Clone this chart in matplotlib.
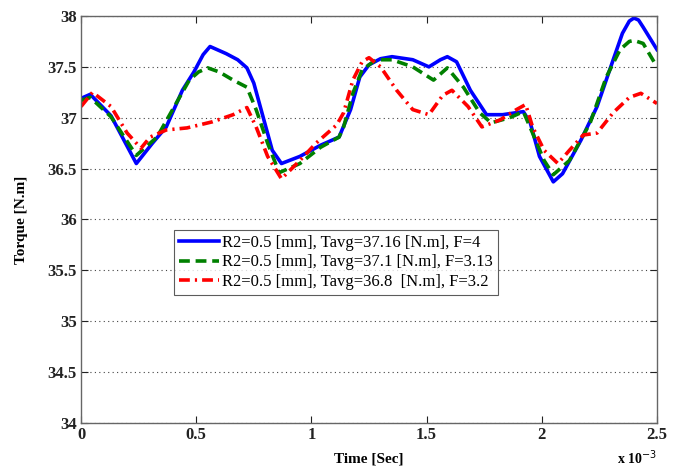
import matplotlib
matplotlib.use("Agg")
import matplotlib.pyplot as plt

# Time in units of 1e-3 s
blue_t = [0.00, 0.04, 0.13, 0.24, 0.31, 0.37, 0.44, 0.49, 0.53, 0.56, 0.59, 0.63, 0.68, 0.72, 0.75, 0.79, 0.83, 0.87,
          0.95, 1.04, 1.12, 1.17, 1.21, 1.25, 1.30, 1.35, 1.44, 1.51, 1.56, 1.59, 1.63, 1.69, 1.76, 1.83, 1.92,
          1.95, 1.99, 2.05, 2.09, 2.17, 2.24, 2.31, 2.35, 2.38, 2.40, 2.42, 2.44, 2.50]
blue_v = [37.19, 37.23, 37.02, 36.55, 36.75, 36.91, 37.27, 37.45, 37.62, 37.70, 37.67, 37.63, 37.57, 37.49, 37.34, 37.01, 36.68, 36.55,
          36.62, 36.73, 36.81, 37.08, 37.40, 37.52, 37.58, 37.60, 37.57, 37.50, 37.57, 37.60, 37.55, 37.27, 37.03, 37.03, 37.06,
          36.95, 36.62, 36.37, 36.45, 36.78, 37.11, 37.57, 37.83, 37.95, 37.98, 37.96, 37.89, 37.67]

green_t = [0.00, 0.04, 0.13, 0.24, 0.33, 0.42, 0.47, 0.51, 0.55, 0.60, 0.66, 0.72, 0.76, 0.81, 0.86, 0.95, 1.04,
           1.12, 1.14, 1.18, 1.22, 1.28, 1.35, 1.44, 1.53, 1.59, 1.66, 1.73, 1.78, 1.86, 1.92, 1.96,
           2.01, 2.05, 2.12, 2.21, 2.28, 2.34, 2.38, 2.40, 2.44, 2.50]
green_v = [37.17, 37.20, 37.01, 36.63, 36.81, 37.17, 37.37, 37.45, 37.49, 37.45, 37.37, 37.30, 37.08, 36.75, 36.46, 36.55, 36.71,
           36.81, 36.91, 37.24, 37.47, 37.57, 37.57, 37.50, 37.37, 37.49, 37.30, 37.05, 36.95, 37.00, 37.06, 36.85,
           36.58, 36.44, 36.58, 36.95, 37.40, 37.67, 37.75, 37.76, 37.73, 37.50]

red_t = [0.00, 0.05, 0.13, 0.20, 0.26, 0.30, 0.37, 0.46, 0.57, 0.66, 0.72, 0.76, 0.81, 0.87, 0.95,
         1.02, 1.11, 1.14, 1.18, 1.22, 1.25, 1.30, 1.37, 1.44, 1.51, 1.57, 1.61, 1.68, 1.74, 1.82,
         1.89, 1.93, 1.96, 2.01, 2.07, 2.12, 2.18, 2.24, 2.31, 2.38, 2.43, 2.50]
red_v = [37.11, 37.25, 37.11, 36.85, 36.70, 36.81, 36.88, 36.90, 36.96, 37.03, 37.10, 36.91, 36.62, 36.40, 36.58,
         36.75, 36.93, 37.05, 37.37, 37.55, 37.59, 37.50, 37.27, 37.08, 37.03, 37.22, 37.27, 37.11, 36.91, 36.98,
         37.08, 37.13, 36.91, 36.68, 36.55, 36.68, 36.83, 36.85, 37.05, 37.20, 37.24, 37.14]

labels = ["R2=0.5 [mm], Tavg=37.16 [N.m], F=4",
          "R2=0.5 [mm], Tavg=37.1 [N.m], F=3.13",
          "R2=0.5 [mm], Tavg=36.8  [N.m], F=3.2"]

x_ticks = [0, 0.5, 1, 1.5, 2, 2.5]
x_tick_labels = ["0", "0.5", "1", "1.5", "2", "2.5"]
y_ticks = [34, 34.5, 35, 35.5, 36, 36.5, 37, 37.5, 38]
y_tick_labels = ["34", "34.5", "35", "35.5", "36", "36.5", "37", "37.5", "38"]

plt.rcParams['font.family'] = ['Liberation Serif', 'DejaVu Serif']

fig = plt.figure(figsize=(6.73, 4.69), dpi=100)
ax = fig.add_axes([0.1204, 0.0981, 0.8558, 0.8678])

kw = dict(lw=2.6, solid_joinstyle='round', dash_joinstyle='round')
ax.plot(blue_t, blue_v, color='#0000ff', label=labels[0], **kw)
ax.plot(green_t, green_v, color='#008000', linestyle=(0, (3.0, 1.6)), label=labels[1], **kw)
ax.plot(red_t, red_v, color='#ff0000', linestyle=(0, (3.0, 1.4, 0.6, 1.4)), label=labels[2], **kw)

ax.set_xlim(0, 2.5)
ax.set_ylim(34, 38)
ax.set_xticks(x_ticks)
ax.set_xticklabels(x_tick_labels, fontsize=12, fontweight='bold')
ax.set_yticks(y_ticks)
ax.set_yticklabels(y_tick_labels, fontsize=12, fontweight='bold')
ax.tick_params(direction='in', top=True, right=True, length=5, width=0.8, colors='#222222', pad=3)
ax.yaxis.grid(True, linestyle=(0, (1, 3)), color='#444444', linewidth=0.8)
for s in ax.spines.values():
    s.set_color('#666666')
    s.set_linewidth(1.0)

ax.set_xlabel("Time [Sec]", fontsize=11, fontweight='bold', labelpad=7)
ax.set_ylabel("Torque [N.m]", fontsize=11, fontweight='bold', labelpad=14)
ax.text(1.0, -0.062, r"x 10$^{-3}$", transform=ax.transAxes, ha='right', va='top',
        fontsize=10, fontweight='bold')

leg = ax.legend(loc='upper left', bbox_to_anchor=(0.161, 0.474), fontsize=12,
                frameon=True, fancybox=False, edgecolor='#333333', handlelength=2.4,
                handletextpad=0.2, borderpad=0.3, labelspacing=0.2, borderaxespad=0)
leg.get_frame().set_linewidth(0.8)

fig.savefig("out.png", dpi=100)
